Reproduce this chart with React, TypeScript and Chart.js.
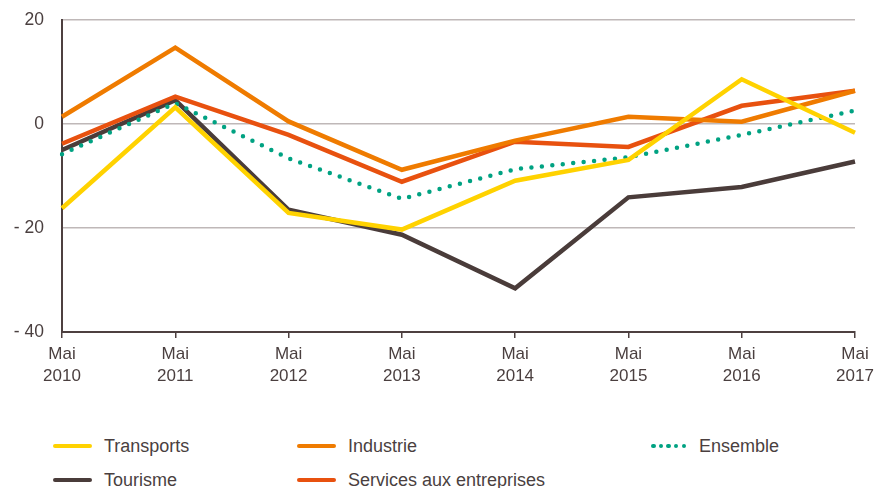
import React, { useEffect, useRef } from "react";
import { Chart, registerables } from "chart.js";

Chart.register(...registerables);

const categories: string[][] = [
  ["Mai", "2010"], ["Mai", "2011"], ["Mai", "2012"], ["Mai", "2013"],
  ["Mai", "2014"], ["Mai", "2015"], ["Mai", "2016"], ["Mai", "2017"],
];
const transports = [-16.2, 3.2, -17.1, -20.3, -10.9, -6.9, 8.6, -1.7];
const industrie = [1.4, 14.7, 0.5, -8.8, -3.2, 1.4, 0.45, 6.4];
const ensemble = [-5.8, 4.0, -6.6, -14.4, -8.7, -6.4, -2.1, 2.6];
const tourisme = [-5.0, 4.6, -16.5, -21.3, -31.6, -14.1, -12.1, -7.2];
const services = [-3.8, 5.25, -2.1, -11.1, -3.4, -4.4, 3.5, 6.4];
const yTicks = [-40, -20, 0, 20];

const TEXT = "#4a3f3f";
const AXIS = "#4d4040";
const GRID = "#bfb8b8";
const C_TRANSPORTS = "#FFD200";
const C_INDUSTRIE = "#EF7B00";
const C_SERVICES = "#E8510F";
const C_TOURISME = "#4A3C3A";
const C_ENSEMBLE = "#00A282";

const fmtTick = (v: number) => (v < 0 ? "- " + Math.abs(v) : String(v));

function LegendItem(props: { x: number; y: number; color: string; label: string; dotted?: boolean }) {
  const { x, y, color, label, dotted } = props;
  return (
    <div style={{ position: "absolute", left: x, top: y - 12, height: 24, display: "flex", alignItems: "center" }}>
      {dotted ? (
        <div style={{ width: 35, height: 4.5, display: "flex", justifyContent: "space-between" }}>
          {[0, 1, 2, 3, 4].map((i) => (
            <div key={i} style={{ width: 4.5, height: 4.5, borderRadius: 2.25, background: color }} />
          ))}
        </div>
      ) : (
        <div style={{ width: 39, height: 4, borderRadius: 2, background: color }} />
      )}
      <div
        style={{
          marginLeft: dotted ? 13 : 12,
          fontFamily: "'Liberation Sans', Arial, sans-serif",
          fontSize: 18,
          color: TEXT,
          whiteSpace: "nowrap",
        }}
      >
        {label}
      </div>
    </div>
  );
}

export default function App() {
  const ref = useRef<HTMLCanvasElement | null>(null);

  useEffect(() => {
    if (!ref.current) return;
    const chart = new Chart(ref.current, {
      type: "line",
      data: {
        labels: categories,
        datasets: [
          { label: "Transports", data: transports, borderColor: C_TRANSPORTS, order: 0 },
          { label: "Industrie", data: industrie, borderColor: C_INDUSTRIE, order: 1 },
          { label: "Services aux entreprises", data: services, borderColor: C_SERVICES, order: 2 },
          {
            label: "Ensemble", data: ensemble, borderColor: C_ENSEMBLE, order: 3,
            borderDash: [0, 10.5], borderCapStyle: "round", borderWidth: 4.5,
          },
          { label: "Tourisme", data: tourisme, borderColor: C_TOURISME, order: 4 },
        ].map((d: any) => ({
          borderWidth: 4.5,
          pointRadius: 0,
          tension: 0,
          fill: false,
          ...d,
        })),
      },
      options: {
        animation: false,
        responsive: false,
        maintainAspectRatio: false,
        layout: { padding: { top: 20, right: 19, left: 0, bottom: 0 } },
        plugins: { legend: { display: false }, tooltip: { enabled: false } },
        scales: {
          x: {
            offset: false,
            afterFit: (s: any) => {
              s.height = 68;
              s.paddingLeft = 0;
              s.paddingRight = 0;
            },
            grid: {
              display: true,
              drawOnChartArea: false,
              drawTicks: true,
              tickLength: 6,
              color: AXIS,
              lineWidth: 1.5,
            },
            border: { display: true, color: AXIS, width: 2 },
            ticks: {
              color: TEXT,
              padding: 5,
              maxRotation: 0,
              autoSkip: false,
              font: { family: "'Liberation Sans', Arial, sans-serif", size: 17, lineHeight: 1.3 },
            },
          },
          y: {
            min: -40,
            max: 20,
            afterFit: (s: any) => {
              s.width = 62;
              s.paddingTop = 0;
              s.paddingBottom = 0;
            },
            afterBuildTicks: (s: any) => { s.ticks = yTicks.map((v) => ({ value: v })); },
            grid: { color: GRID, lineWidth: 1.5, drawTicks: false },
            border: { display: true, color: AXIS, width: 2 },
            ticks: {
              color: TEXT,
              padding: 18,
              callback: (v: any) => fmtTick(Number(v)),
              font: { family: "'Liberation Sans', Arial, sans-serif", size: 17.5 },
            },
          },
        },
      },
    });
    return () => chart.destroy();
  }, []);

  return (
    <div style={{ position: "absolute", left: 0, top: 0, width: 874, height: 488, background: "#fff" }}>
      <canvas ref={ref} width={874} height={400} style={{ display: "block", width: 874, height: 400 }} />
      <LegendItem x={53} y={446} color={C_TRANSPORTS} label="Transports" />
      <LegendItem x={297} y={446} color={C_INDUSTRIE} label="Industrie" />
      <LegendItem x={651} y={446} color={C_ENSEMBLE} label="Ensemble" dotted />
      <LegendItem x={53} y={480} color={C_TOURISME} label="Tourisme" />
      <LegendItem x={297} y={480} color={C_SERVICES} label="Services aux entreprises" />
    </div>
  );
}
